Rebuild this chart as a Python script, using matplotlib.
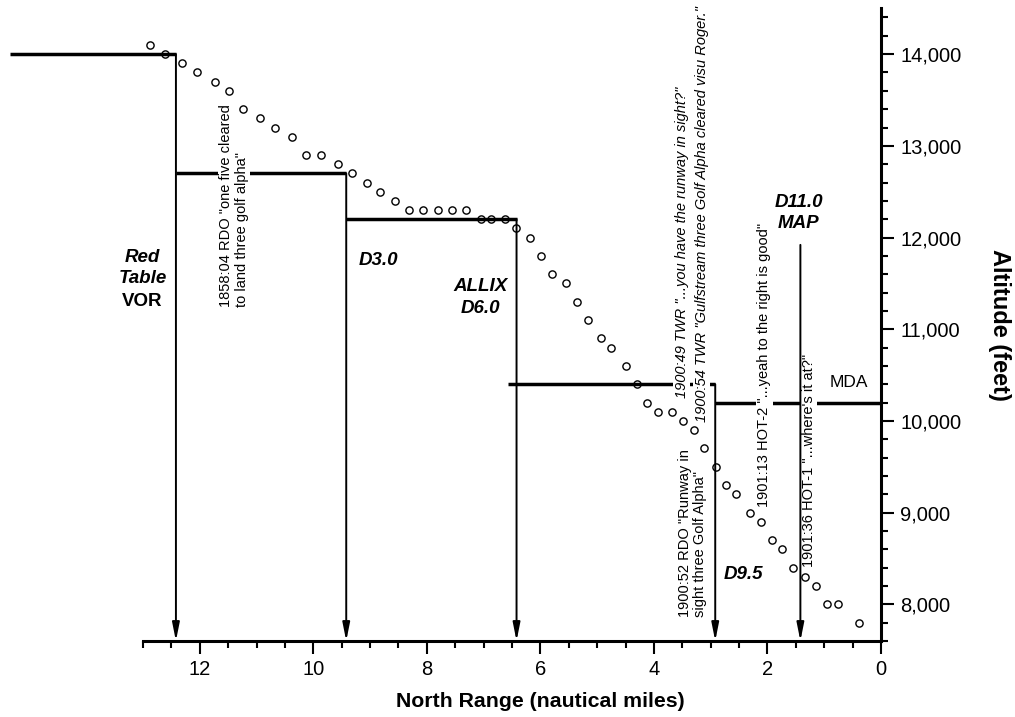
import matplotlib
matplotlib.use("Agg")
import matplotlib.pyplot as plt
from matplotlib.ticker import MultipleLocator, StrMethodFormatter

plt.rcParams['font.family'] = ['Liberation Sans', 'DejaVu Sans']

# radar track (north range nm, altitude ft)
range_nm = [12.87, 12.62, 12.32, 12.05, 11.74, 11.49, 11.24, 10.94, 10.68, 10.38,
            10.13, 9.87, 9.56, 9.32, 9.06, 8.82, 8.56, 8.31, 8.06, 7.81,
            7.56, 7.31, 7.05, 6.87, 6.62, 6.43, 6.18, 5.99, 5.80, 5.55,
            5.36, 5.17, 4.93, 4.75, 4.49, 4.30, 4.12, 3.93, 3.68, 3.48,
            3.30, 3.11, 2.91, 2.73, 2.55, 2.31, 2.12, 1.92, 1.74, 1.55,
            1.34, 1.15, 0.95, 0.75, 0.39]
altitude_ft = [14100, 14000, 13900, 13800, 13700, 13600, 13400, 13300, 13200, 13100,
               12900, 12900, 12800, 12700, 12600, 12500, 12400, 12300, 12300, 12300,
               12300, 12300, 12200, 12200, 12200, 12100, 12000, 11800, 11600, 11500,
               11300, 11100, 10900, 10800, 10600, 10400, 10200, 10100, 10100, 10000,
               9900, 9700, 9500, 9300, 9200, 9000, 8900, 8700, 8600, 8400,
               8300, 8200, 8000, 8000, 7800]

# approach procedure step-down segments
step_start = [15.35, 12.42, 9.42, 6.57, 2.92]
step_end = [12.42, 9.42, 6.42, 2.92, 0.0]
step_alt = [14000, 12700, 12200, 10400, 10200]

# fixes (vertical arrows)
fix_x = [12.42, 9.42, 6.42, 2.92, 1.42]
fix_top = [14000, 12700, 12200, 10400, 11920]

# fix labels: text, x, y, italic
fix_labels = [
    ("Red", 13.01, 11786, True),
    ("Table", 13.01, 11557, True),
    ("VOR", 13.01, 11306, False),
    ("D3.0", 8.86, 11753, True),
    ("ALLIX", 7.05, 11470, True),
    ("D6.0", 7.05, 11230, True),
    ("D9.5", 2.43, 8329, True),
    ("D11.0", 1.445, 12386, True),
    ("MAP", 1.445, 12157, True),
]

# radio transcript notes: text, x, bottom y, italic
notes = [
    ('1858:04 RDO "one five cleared\nto land three golf alpha"', 11.40, 11241, False),
    ('1900:49 TWR "...you have the runway in sight?"', 3.51, 10252, True),
    ('1900:54 TWR "Gulfstream three Golf Alpha cleared visu Roger."', 3.16, 9990, True),
    ('1900:52 RDO "Runway in\nsight three Golf Alpha"', 3.32, 7864, False),
    ('1901:13 HOT-2 "...yeah to the right is good"', 2.06, 9060, False),
    ("1901:36 HOT-1 \"...where's it at?\"", 1.27, 8406, False),
]

y_bottom = 7600

fig = plt.figure(figsize=(10.15, 7.17), dpi=100)
ax = fig.add_axes([143 / 1015, 76 / 717, 738 / 1015, 632.7 / 717])

ax.hlines(step_alt, step_start, step_end, colors='black', lw=2.5, zorder=2, clip_on=False)

for x, top in zip(fix_x, fix_top):
    ax.annotate('', xy=(x, y_bottom), xytext=(x, top),
                arrowprops=dict(arrowstyle='-|>,head_length=0.9,head_width=0.18',
                                color='black', lw=1.4, shrinkA=0, shrinkB=0,
                                mutation_scale=12), zorder=4)

ax.plot(range_nm, altitude_ft, 'o', mfc='none', mec='black', ms=5.2, mew=1.0, zorder=5)

for txt, x, y, it in fix_labels:
    ax.text(x, y, txt, ha='center', va='center', fontsize=13.5, fontweight='bold',
            fontstyle='italic' if it else 'normal', zorder=6)

ax.text(0.56, 10423, "MDA", ha='center', va='center', fontsize=12.5, zorder=6)

for txt, x, y, it in notes:
    ax.text(x, y, txt, rotation=90, ha='center', va='bottom', multialignment='left',
            fontsize=10.5, fontstyle='italic' if it else 'normal', linespacing=1.15,
            bbox=dict(facecolor='white', edgecolor='none', pad=1.0), zorder=3)

ax.set_xlim(13.0, 0)
ax.set_ylim(y_bottom, 14500)

for s in ['left', 'top']:
    ax.spines[s].set_visible(False)
for s in ['right', 'bottom']:
    ax.spines[s].set_linewidth(2.2)

ax.yaxis.tick_right()
ax.xaxis.set_major_locator(MultipleLocator(2))
ax.xaxis.set_minor_locator(MultipleLocator(0.5))
ax.yaxis.set_major_locator(MultipleLocator(1000))
ax.yaxis.set_minor_locator(MultipleLocator(200))
ax.yaxis.set_major_formatter(StrMethodFormatter('{x:,.0f}'))
ax.tick_params(which='major', length=9, width=1.5, labelsize=14.5, pad=5)
ax.tick_params(which='minor', length=5, width=1.5)

ax.set_xlabel('North Range (nautical miles)', fontsize=15.3, fontweight='bold')
ax.xaxis.label.set_va('center')
ax.xaxis.set_label_coords(0.538, -0.0964)

ax.yaxis.set_label_position('right')
ax.set_ylabel('Altitude (feet)', fontsize=17, fontweight='bold', rotation=270)
ax.yaxis.label.set_va('center')
ax.yaxis.set_label_coords(1.161, 0.5)

fig.savefig('out.png', dpi=100)
